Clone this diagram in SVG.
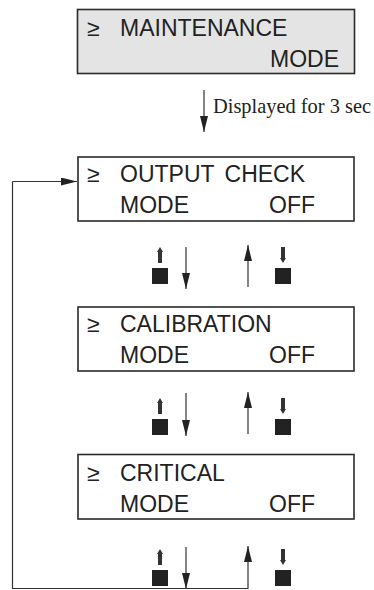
<svg xmlns="http://www.w3.org/2000/svg" width="374" height="590" viewBox="0 0 374 590">
<style>
.box{fill:#fff;stroke:#2a2a2a;stroke-width:1.6}
.gray{fill:#e4e4e4}
.t{font-family:"Liberation Sans",Arial,sans-serif;font-size:23px;fill:#222}
.cap{font-family:"Liberation Serif","Times New Roman",serif;font-size:20.4px;fill:#222}
.ln{fill:none;stroke:#333;stroke-width:1.2}
.sq{fill:#222}
.ah{fill:#222}
</style>
<defs>
<marker id="ah" viewBox="0 0 16 8" refX="16" refY="4" markerWidth="16" markerHeight="8" markerUnits="userSpaceOnUse" orient="auto">
<path d="M0,0 L16,4 L0,8 Z" fill="#222"/>
</marker>
<g id="btnUp">
<rect x="-8" y="0" width="16" height="16" class="sq"/>
<path d="M-2,-5 L2,-5 L2,-16 L3,-16 L0,-21 L-3,-16 L-2,-16 Z" fill="#333"/>
</g>
<g id="btnDn">
<rect x="-8" y="0" width="16" height="16" class="sq"/>
<path d="M-2,-21 L2,-21 L2,-10 L3,-10 L0,-5 L-3,-10 L-2,-10 Z" fill="#333"/>
</g>
</defs>

<g id="node-maintenance">
<rect x="77.5" y="9.5" width="277" height="64" class="box gray"/>
<text x="87" y="36" class="t">≥</text>
<text x="120" y="36" class="t">MAINTENANCE</text>
<text x="339" y="67" class="t" text-anchor="end">MODE</text>
</g>

<g id="node-output-check">
<rect x="78" y="157" width="276" height="64" class="box"/>
<text x="87" y="182" class="t">≥</text>
<text x="120" y="182" class="t" word-spacing="4">OUTPUT CHECK</text>
<text x="120" y="213" class="t">MODE</text>
<text x="315" y="213" class="t" text-anchor="end">OFF</text>
</g>

<g id="node-calibration">
<rect x="78" y="307" width="276" height="64" class="box"/>
<text x="87" y="332" class="t">≥</text>
<text x="120" y="332" class="t">CALIBRATION</text>
<text x="120" y="363" class="t">MODE</text>
<text x="315" y="363" class="t" text-anchor="end">OFF</text>
</g>

<g id="node-critical">
<rect x="78" y="454.5" width="276" height="64.5" class="box"/>
<text x="87" y="481" class="t">≥</text>
<text x="120" y="481" class="t">CRITICAL</text>
<text x="120" y="512" class="t">MODE</text>
<text x="315" y="512" class="t" text-anchor="end">OFF</text>
</g>

<g id="buttons">
<use href="#btnUp" x="160" y="268"/>
<use href="#btnDn" x="283" y="268"/>
<use href="#btnUp" x="160" y="419"/>
<use href="#btnDn" x="283" y="419"/>
<use href="#btnUp" x="160" y="570"/>
<use href="#btnDn" x="283" y="570"/>
</g>

<g id="connectors">
<line x1="204" y1="90" x2="204" y2="132" class="ln" marker-end="url(#ah)"/>
<text x="213" y="113" class="cap">Displayed for 3 sec</text>

<line x1="186" y1="247" x2="186" y2="289" class="ln" marker-end="url(#ah)"/>
<line x1="248" y1="287" x2="248" y2="245" class="ln" marker-end="url(#ah)"/>

<line x1="186" y1="393" x2="186" y2="436" class="ln" marker-end="url(#ah)"/>
<line x1="248" y1="434" x2="248" y2="392" class="ln" marker-end="url(#ah)"/>

<line x1="186" y1="547" x2="186" y2="589" class="ln" marker-end="url(#ah)"/>
<path d="M12.5,181.5 L12.5,588.5 L248,588.5 L248,546" class="ln" marker-end="url(#ah)"/>
<path d="M12.5,181.5 L77,181.5" class="ln" marker-end="url(#ah)"/>
</g>
</svg>
